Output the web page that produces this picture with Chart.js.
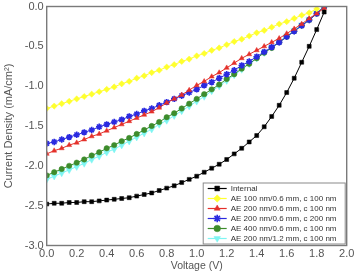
<!DOCTYPE html>
<html>

<head>
    <title>J-V Curves</title>
    <script src="https://cdn.jsdelivr.net/npm/chart.js"></script>
    <style>
        html, body { margin: 0; padding: 0; background: #fff; }
        #wrap { width: 354px; height: 272px; position: relative; }
    </style>
</head>

<body>
    <div id="wrap"><canvas id="jvChart"></canvas></div>

    <script>
        // voltage steps (V)
        const voltage = [0.00, 0.05, 0.10, 0.15, 0.20, 0.25, 0.30, 0.35, 0.40, 0.45,
            0.50, 0.55, 0.60, 0.65, 0.70, 0.75, 0.80, 0.85, 0.90, 0.95,
            1.00, 1.05, 1.10, 1.15, 1.20, 1.25, 1.30, 1.35, 1.40, 1.45,
            1.50, 1.55, 1.60, 1.65, 1.70, 1.75, 1.80, 1.85];

        // current density (mA/cm2)
        const internal = [-2.48, -2.47, -2.47, -2.46, -2.46, -2.45, -2.45, -2.44, -2.43, -2.42,
            -2.41, -2.40, -2.38, -2.36, -2.34, -2.31, -2.28, -2.25, -2.21, -2.17,
            -2.13, -2.08, -2.03, -1.98, -1.92, -1.85, -1.78, -1.70, -1.62, -1.51,
            -1.38, -1.24, -1.08, -0.90, -0.70, -0.50, -0.29, -0.07];
        const ae100 = [-1.28, -1.25, -1.22, -1.19, -1.16, -1.13, -1.10, -1.07, -1.04, -1.01,
            -0.97, -0.94, -0.90, -0.87, -0.83, -0.80, -0.76, -0.73, -0.69, -0.66,
            -0.62, -0.59, -0.55, -0.52, -0.48, -0.44, -0.41, -0.37, -0.33, -0.30,
            -0.26, -0.22, -0.19, -0.15, -0.11, -0.08, -0.03, null];
        const ae200 = [-1.85, -1.81, -1.78, -1.74, -1.71, -1.67, -1.63, -1.60, -1.56, -1.52,
            -1.48, -1.44, -1.40, -1.36, -1.32, -1.27, -1.21, -1.16, -1.11, -1.05,
            -0.99, -0.94, -0.88, -0.83, -0.77, -0.71, -0.65, -0.60, -0.55, -0.50,
            -0.45, -0.40, -0.34, -0.28, -0.22, -0.15, -0.09, -0.02];
        const ae200c200 = [-1.72, -1.70, -1.67, -1.64, -1.61, -1.58, -1.55, -1.51, -1.48, -1.45,
            -1.42, -1.38, -1.35, -1.31, -1.28, -1.24, -1.20, -1.16, -1.12, -1.08,
            -1.04, -0.99, -0.95, -0.90, -0.85, -0.80, -0.74, -0.69, -0.63, -0.57,
            -0.51, -0.45, -0.38, -0.31, -0.24, -0.17, -0.09, 0.00];
        const ae400 = [-2.12, -2.08, -2.04, -2.00, -1.96, -1.92, -1.87, -1.83, -1.78, -1.74,
            -1.69, -1.65, -1.60, -1.55, -1.50, -1.45, -1.39, -1.34, -1.28, -1.22,
            -1.16, -1.10, -1.04, -0.98, -0.91, -0.85, -0.78, -0.72, -0.65, -0.58,
            -0.52, -0.45, -0.38, -0.31, -0.24, -0.17, -0.09, 0.00];
        const ae200w12 = [-2.17, -2.13, -2.09, -2.05, -2.01, -1.97, -1.92, -1.88, -1.83, -1.79,
            -1.74, -1.69, -1.64, -1.59, -1.54, -1.48, -1.43, -1.37, -1.31, -1.25,
            -1.19, -1.13, -1.06, -1.00, -0.93, -0.86, -0.79, -0.72, -0.65, -0.58,
            -0.51, -0.44, -0.37, -0.30, -0.23, -0.16, -0.08, 0.00];

        const seriesNames = ['Internal', 'AE 100 nm/0.6 mm, c 100 nm', 'AE 200 nm/0.6 mm, c 100 nm',
            'AE 200 nm/0.6 mm, c 200 nm', 'AE 400 nm/0.6 mm, c 100 nm', 'AE 200 nm/1.2 mm, c 100 nm'];
        const seriesValues = [internal, ae100, ae200, ae200c200, ae400, ae200w12];
        const seriesColors = ['#000000', '#ffff2e', '#e4302a', '#2a2ae0', '#3d8c2c', '#7ff5f2'];
        const seriesStyles = ['rect', 'rectRot', 'triangle', 'star', 'circle', 'triangle'];
        const seriesRotation = [0, 0, 0, 0, 0, 180];
        const seriesRadius = [2.8, 3.1, 2.9, 3.2, 2.7, 3.8];

        const yTicks = [0, -0.5, -1, -1.5, -2, -2.5, -3];
        const xTicks = [0, 0.2, 0.4, 0.6, 0.8, 1.0, 1.2, 1.4, 1.6, 1.8, 2.0];

        const FONT = "'Liberation Sans', Arial, sans-serif";

        function toPoints(vals) {
            return voltage.map((v, i) => ({ x: v, y: vals[i] === undefined ? null : vals[i] }));
        }

        const datasets = seriesNames.map((name, i) => ({
            label: name,
            data: toPoints(seriesValues[i]),
            borderColor: seriesColors[i],
            backgroundColor: seriesColors[i],
            borderWidth: 1,
            pointStyle: seriesStyles[i],
            pointRotation: seriesRotation[i],
            pointRadius: seriesRadius[i],
            pointBorderWidth: seriesStyles[i] === 'star' ? 1.6 : 0.5,
            tension: 0,
            spanGaps: false
        }));

        // frame around the plot area
        const framePlugin = {
            id: 'frame',
            afterDatasetsDraw(chart) {
                const { ctx, chartArea: a } = chart;
                ctx.save();
                ctx.strokeStyle = '#7a7a7a';
                ctx.lineWidth = 1.4;
                ctx.strokeRect(a.left, a.top, a.right - a.left, a.bottom - a.top);
                ctx.restore();
            }
        };

        // legend box inside the bottom right corner
        const boxLegend = {
            id: 'boxLegend',
            afterDraw(chart) {
                const { ctx, chartArea: a } = chart;
                const w = 142, rowH = 10, h = 61;
                const x0 = a.right - w - 2, y0 = a.bottom - h - 2;
                ctx.save();
                ctx.fillStyle = '#fff';
                ctx.fillRect(x0, y0, w, h);
                ctx.strokeStyle = '#8a8a8a';
                ctx.lineWidth = 1;
                ctx.strokeRect(x0 + 0.5, y0 + 0.5, w, h);
                ctx.font = '8px ' + FONT;
                ctx.textBaseline = 'middle';
                chart.data.datasets.forEach((ds, i) => {
                    const cy = y0 + 6 + rowH * i;
                    ctx.strokeStyle = ds.borderColor;
                    ctx.lineWidth = 1.2;
                    ctx.beginPath();
                    ctx.moveTo(x0 + 5, cy);
                    ctx.lineTo(x0 + 24, cy);
                    ctx.stroke();
                    ctx.fillStyle = ds.backgroundColor;
                    ctx.lineWidth = ds.pointBorderWidth;
                    if (Chart.helpers && Chart.helpers.drawPoint) {
                        Chart.helpers.drawPoint(ctx, {
                            pointStyle: ds.pointStyle,
                            radius: Math.min(ds.pointRadius, 3.2) + 0.6,
                            rotation: ds.pointRotation,
                            borderWidth: ds.pointBorderWidth
                        }, x0 + 14.5, cy);
                    } else {
                        ctx.fillRect(x0 + 12, cy - 2.5, 5, 5);
                    }
                    ctx.fillStyle = '#333';
                    ctx.fillText(ds.label, x0 + 28, cy + 0.5);
                });
                ctx.restore();
            }
        };

        const ctx = document.getElementById('jvChart').getContext('2d');

        const options = {
            responsive: true,
            maintainAspectRatio: false,
            animation: false,
            layout: { padding: { top: 6.5, right: 7.3, left: 0, bottom: 0 } },
            plugins: {
                legend: { display: false },
                tooltip: { enabled: false }
            },
            scales: {
                x: {
                    type: 'linear',
                    min: 0,
                    max: 2,
                    afterBuildTicks: (s) => { s.ticks = xTicks.map(v => ({ value: v })); },
                    afterFit: (s) => { s.height = 26.5; s.paddingLeft = 0; s.paddingRight = 0; },
                    grid: { display: false, drawTicks: false },
                    border: { display: false },
                    ticks: {
                        padding: 2,
                        color: '#555',
                        font: { family: FONT, size: 11 },
                        maxRotation: 0,
                        autoSkip: false,
                        callback: (v) => v.toFixed(1)
                    },
                    title: {
                        display: true,
                        text: 'Voltage (V)',
                        color: '#555',
                        font: { family: FONT, size: 10.5 },
                        padding: { top: 0, bottom: 0 }
                    }
                },
                y: {
                    min: -3,
                    max: 0,
                    afterBuildTicks: (s) => { s.ticks = yTicks.map(v => ({ value: v })); },
                    afterFit: (s) => { s.width = 46.7; s.paddingTop = 0; s.paddingBottom = 0; },
                    grid: { display: false, drawTicks: false },
                    border: { display: false },
                    ticks: {
                        padding: 3,
                        color: '#555',
                        font: { family: FONT, size: 11 },
                        autoSkip: false,
                        callback: (v) => v.toFixed(1)
                    },
                    title: {
                        display: true,
                        text: 'Current Density (mA/cm²)',
                        color: '#555',
                        font: { family: FONT, size: 11 },
                        padding: { top: 2, bottom: 0 }
                    }
                }
            }
        };

        new Chart(ctx, { type: 'line', data: { datasets }, options, plugins: [framePlugin, boxLegend] });
    </script>

</body>

</html>
